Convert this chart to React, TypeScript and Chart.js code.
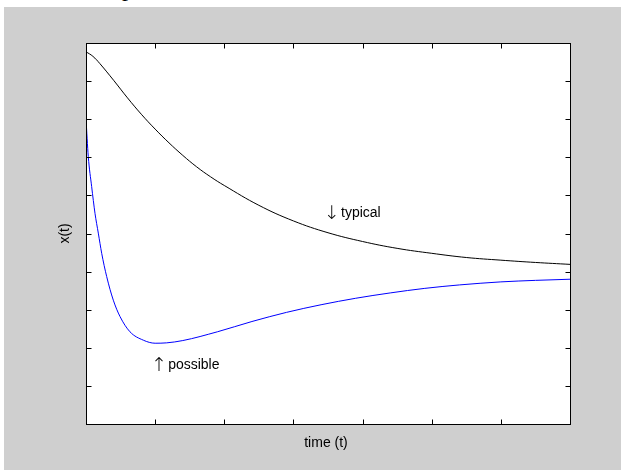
import React, { useEffect, useRef } from "react";
import { Chart, registerables } from "chart.js";

Chart.register(...registerables);

// Time axis (0..7 tick units) and x(t) axis (0..10 tick units); no tick labels are shown
const xTicks = [0, 1, 2, 3, 4, 5, 6, 7];
const yTicks = [0, 1, 2, 3, 4, 5, 6, 7, 8, 9, 10];

const typicalTime = [0, 0.1, 0.2, 0.4, 0.6, 0.8, 1.0, 1.2, 1.4, 1.6, 1.8, 2.0, 2.5, 3.0, 3.5, 4.0, 4.5, 5.0, 5.5, 6.0, 6.5, 7.0];
const typicalValues = [9.77, 9.65, 9.46, 9.02, 8.56, 8.13, 7.74, 7.38, 7.05, 6.75, 6.49, 6.26, 5.74, 5.33, 5.02, 4.79, 4.61, 4.48, 4.37, 4.3, 4.24, 4.19];

const possibleTime = [0, 0.033, 0.082, 0.13, 0.178, 0.227, 0.299, 0.395, 0.492, 0.636, 0.829, 1.0, 1.167, 1.4, 1.9, 2.4, 2.9, 3.4, 3.9, 4.4, 4.9, 5.4, 6.0, 6.5, 7.0];
const possibleValues = [8.01, 7.02, 6.23, 5.53, 5.01, 4.48, 3.87, 3.25, 2.82, 2.42, 2.2, 2.12, 2.13, 2.19, 2.42, 2.69, 2.93, 3.13, 3.3, 3.44, 3.56, 3.65, 3.73, 3.77, 3.8];

const annotations = [
  { arrow: "\u2193", text: "typical", x: 3.5, y: 5.43 },
  { arrow: "\u2191", text: "possible", x: 1.0, y: 1.44 },
];

const xTitle = "time (t)";
const yTitle = "x(t)";

const FONT = '14px "Liberation Sans", Arial, sans-serif';
const ARROW_FONT = '200 19px "DejaVu Sans", sans-serif';

const framePlugin = {
  id: "matlabFrame",
  afterDraw(chart: any) {
    const { ctx, chartArea } = chart;
    const xs = chart.scales.x;
    const ys = chart.scales.y;
    const L = chartArea.left + 0.5;
    const R = chartArea.right + 0.5;
    const T = chartArea.top + 0.5;
    const B = chartArea.bottom + 0.5;
    ctx.save();
    ctx.strokeStyle = "#000";
    ctx.lineWidth = 1;
    ctx.strokeRect(L, T, R - L, B - T);
    const tl = 5;
    ctx.beginPath();
    xTicks.forEach((v) => {
      const px = Math.round(xs.getPixelForValue(v)) + 0.5;
      ctx.moveTo(px, B);
      ctx.lineTo(px, B - tl);
      ctx.moveTo(px, T);
      ctx.lineTo(px, T + tl);
    });
    yTicks.forEach((v) => {
      const py = Math.round(ys.getPixelForValue(v)) + 0.5;
      ctx.moveTo(L, py);
      ctx.lineTo(L + tl, py);
      ctx.moveTo(R, py);
      ctx.lineTo(R - tl, py);
    });
    ctx.stroke();

    ctx.fillStyle = "#000";
    ctx.textAlign = "left";
    ctx.textBaseline = "alphabetic";
    annotations.forEach((a) => {
      const px = xs.getPixelForValue(a.x);
      const py = ys.getPixelForValue(a.y);
      ctx.font = ARROW_FONT;
      ctx.fillText(a.arrow, px - 4, py + 2);
      ctx.font = FONT;
      ctx.fillText(a.text, px + 13, py);
    });

    ctx.font = FONT;
    ctx.textAlign = "center";
    ctx.textBaseline = "middle";
    ctx.fillText(xTitle, (chartArea.left + chartArea.right) / 2 - 2, chartArea.bottom + 19);
    ctx.save();
    ctx.translate(chartArea.left - 21, (chartArea.top + chartArea.bottom) / 2);
    ctx.rotate(-Math.PI / 2);
    ctx.fillText(yTitle, 0, 0);
    ctx.restore();
    ctx.restore();
  },
};

export default function App() {
  const ref = useRef<HTMLCanvasElement | null>(null);

  useEffect(() => {
    document.body.style.margin = "0";
    const canvas = ref.current;
    if (!canvas) return;
    const chart = new Chart(canvas, {
      type: "line",
      data: {
        datasets: [
          {
            label: "typical",
            data: typicalTime.map((t, i) => ({ x: t, y: typicalValues[i] })),
            borderColor: "#000000",
            borderWidth: 1,
            pointRadius: 0,
            tension: 0.4,
            fill: false,
          },
          {
            label: "possible",
            data: possibleTime.map((t, i) => ({ x: t, y: possibleValues[i] })),
            borderColor: "#0000ff",
            borderWidth: 1,
            pointRadius: 0,
            cubicInterpolationMode: "monotone",
            fill: false,
          },
        ],
      },
      options: {
        animation: false,
        responsive: false,
        devicePixelRatio: 1,
        layout: { padding: { left: 82, top: 36, right: 51, bottom: 46 } },
        plugins: { legend: { display: false }, tooltip: { enabled: false } },
        scales: {
          x: { type: "linear", min: 0, max: 7, display: false },
          y: { type: "linear", min: 0, max: 10, display: false },
        },
      },
      plugins: [
        {
          id: "whiteArea",
          beforeDraw(c: any) {
            const { ctx, chartArea } = c;
            ctx.save();
            ctx.fillStyle = "#ffffff";
            ctx.fillRect(chartArea.left, chartArea.top, chartArea.right - chartArea.left, chartArea.bottom - chartArea.top);
            ctx.restore();
          },
        },
        framePlugin,
      ],
    } as any);
    return () => chart.destroy();
  }, []);

  return (
    <div style={{ position: "fixed", left: 0, top: 0, width: 621, height: 470, background: "#ffffff", overflow: "hidden" }}>
      <div
        style={{
          position: "absolute",
          left: 122,
          top: -24,
          fontFamily: '"Liberation Serif", "Times New Roman", serif',
          fontSize: 24,
          lineHeight: "24px",
          color: "#000",
        }}
      >
        p
      </div>
      <div style={{ position: "absolute", left: 4, top: 7, width: 617, height: 463, background: "#cfcfcf" }}>
        <canvas ref={ref} width={617} height={463} style={{ display: "block", width: 617, height: 463 }} />
      </div>
    </div>
  );
}
